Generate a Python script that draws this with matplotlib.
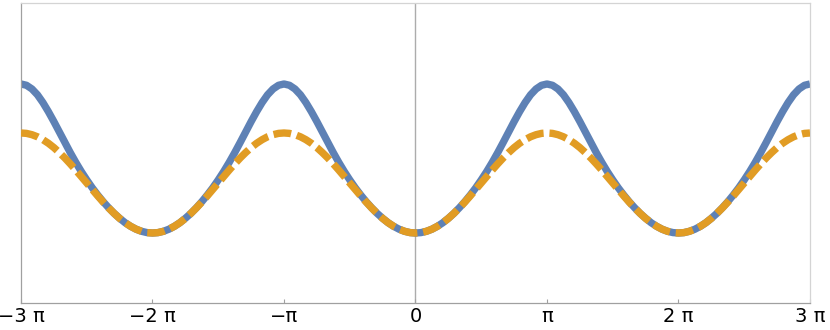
import numpy as np
import matplotlib
matplotlib.use("Agg")
import matplotlib.pyplot as plt

# x positions in units of pi, one sample every pi/24 from -3pi to 3pi
x_pi = np.linspace(-3, 3, 145)

# values (blue solid curve)
blue = [1.490, 1.477, 1.440, 1.382, 1.304, 1.213, 1.114, 1.010, 0.905, 0.803, 0.706, 0.615,
        0.531, 0.452, 0.380, 0.313, 0.252, 0.196, 0.147, 0.103, 0.067, 0.038, 0.017, 0.004,
        0.000, 0.004, 0.017, 0.038, 0.067, 0.103, 0.147, 0.196, 0.252, 0.313, 0.380, 0.452,
        0.531, 0.615, 0.706, 0.803, 0.905, 1.010, 1.114, 1.213, 1.304, 1.382, 1.440, 1.477,
        1.490, 1.477, 1.440, 1.382, 1.304, 1.213, 1.114, 1.010, 0.905, 0.803, 0.706, 0.615,
        0.531, 0.452, 0.380, 0.313, 0.252, 0.196, 0.147, 0.103, 0.067, 0.038, 0.017, 0.004,
        0.000, 0.004, 0.017, 0.038, 0.067, 0.103, 0.147, 0.196, 0.252, 0.313, 0.380, 0.452,
        0.531, 0.615, 0.706, 0.803, 0.905, 1.010, 1.114, 1.213, 1.304, 1.382, 1.440, 1.477,
        1.490, 1.477, 1.440, 1.382, 1.304, 1.213, 1.114, 1.010, 0.905, 0.803, 0.706, 0.615,
        0.531, 0.452, 0.380, 0.313, 0.252, 0.196, 0.147, 0.103, 0.067, 0.038, 0.017, 0.004,
        0.000, 0.004, 0.017, 0.038, 0.067, 0.103, 0.147, 0.196, 0.252, 0.313, 0.380, 0.452,
        0.531, 0.615, 0.706, 0.803, 0.905, 1.010, 1.114, 1.213, 1.304, 1.382, 1.440, 1.477,
        1.490]

# orange dashed curve
orange = [1.000, 0.996, 0.983, 0.962, 0.933, 0.897, 0.854, 0.804, 0.750, 0.691, 0.629, 0.565,
          0.500, 0.435, 0.371, 0.309, 0.250, 0.196, 0.146, 0.103, 0.067, 0.038, 0.017, 0.004,
          0.000, 0.004, 0.017, 0.038, 0.067, 0.103, 0.146, 0.196, 0.250, 0.309, 0.371, 0.435,
          0.500, 0.565, 0.629, 0.691, 0.750, 0.804, 0.854, 0.897, 0.933, 0.962, 0.983, 0.996,
          1.000, 0.996, 0.983, 0.962, 0.933, 0.897, 0.854, 0.804, 0.750, 0.691, 0.629, 0.565,
          0.500, 0.435, 0.371, 0.309, 0.250, 0.196, 0.146, 0.103, 0.067, 0.038, 0.017, 0.004,
          0.000, 0.004, 0.017, 0.038, 0.067, 0.103, 0.146, 0.196, 0.250, 0.309, 0.371, 0.435,
          0.500, 0.565, 0.629, 0.691, 0.750, 0.804, 0.854, 0.897, 0.933, 0.962, 0.983, 0.996,
          1.000, 0.996, 0.983, 0.962, 0.933, 0.897, 0.854, 0.804, 0.750, 0.691, 0.629, 0.565,
          0.500, 0.435, 0.371, 0.309, 0.250, 0.196, 0.146, 0.103, 0.067, 0.038, 0.017, 0.004,
          0.000, 0.004, 0.017, 0.038, 0.067, 0.103, 0.146, 0.196, 0.250, 0.309, 0.371, 0.435,
          0.500, 0.565, 0.629, 0.691, 0.750, 0.804, 0.854, 0.897, 0.933, 0.962, 0.983, 0.996,
          1.000]

tick_pos = [-3, -2, -1, 0, 1, 2, 3]
tick_labels = ["\u22123 \u03c0", "\u22122 \u03c0", "\u2212\u03c0", "0", "\u03c0", "2 \u03c0", "3 \u03c0"]

x = x_pi * np.pi

fig = plt.figure(figsize=(8.3, 3.3), dpi=100)
ax = fig.add_axes([0.0253, 0.0818, 0.9506, 0.9092])

ax.axvline(0, color="#acacac", lw=1.0, zorder=1)
ax.plot(x, blue, color="#5E81B5", lw=5.3, solid_capstyle="butt", zorder=2)
ax.plot(x, orange, color="#E19C24", lw=5.3, dashes=(2.4, 0.8), dash_capstyle="butt", zorder=3)

ax.set_xlim(-3 * np.pi, 3 * np.pi)
ax.set_ylim(-0.70, 2.30)

ax.set_xticks(np.array(tick_pos) * np.pi)
ax.set_xticklabels(tick_labels, fontsize=14, family="DejaVu Sans")
ax.set_yticks([])
ax.tick_params(axis="x", direction="in", length=3, width=0.8, color="#a0a0a0", pad=3)

for side in ["left", "bottom"]:
    ax.spines[side].set_color("#a0a0a0")
    ax.spines[side].set_linewidth(0.9)
for side in ["top", "right"]:
    ax.spines[side].set_color("#d4d4d4")
    ax.spines[side].set_linewidth(0.9)

fig.savefig("out.png", dpi=100)
